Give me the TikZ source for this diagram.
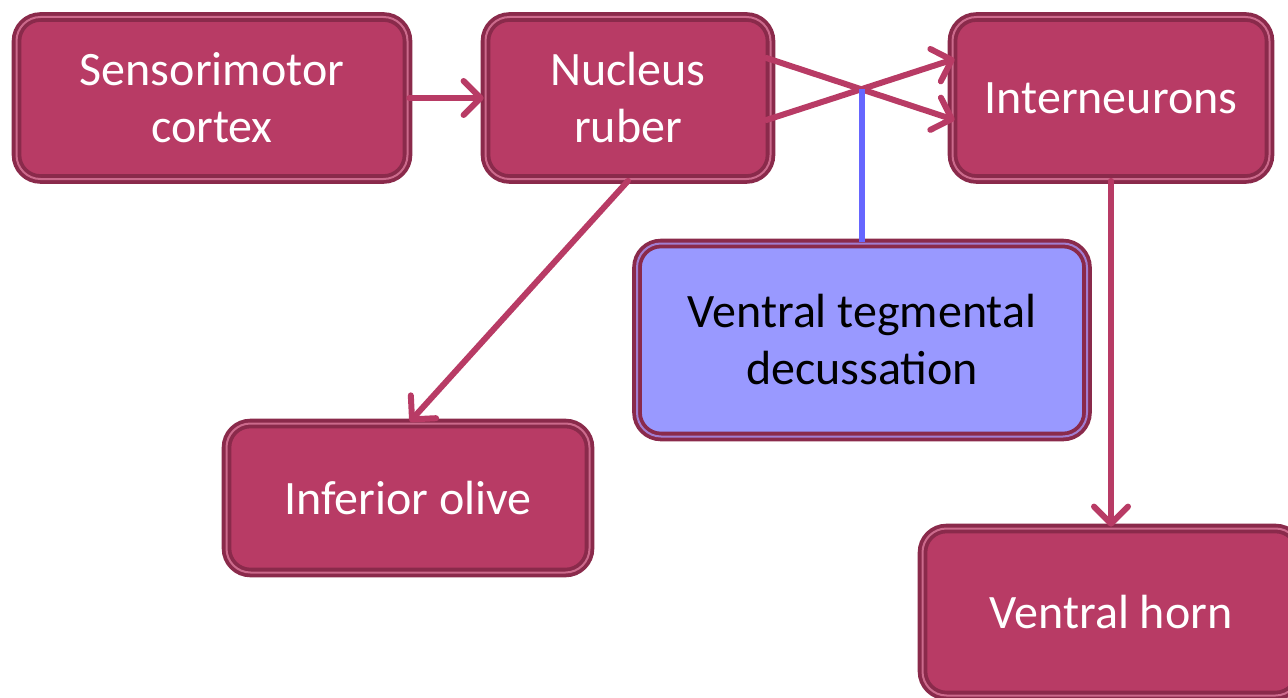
\documentclass[tikz,border=0pt]{standalone}
\usepackage{fontspec}
\setmainfont{Carlito}
\usetikzlibrary{positioning,calc,arrows.meta}

\definecolor{rubin}{HTML}{B83B65}
\definecolor{rubindark}{HTML}{8A2A4B}
\definecolor{rubinlight}{HTML}{CC6A8C}
\definecolor{lilac}{HTML}{9999FF}
\definecolor{lilacline}{HTML}{6666FF}

\begin{document}
\begin{tikzpicture}[
    x=1pt, y=-1pt,
    block/.style={rectangle, rounded corners=24pt, fill=rubin, text=white,
      draw=rubindark, line width=3.8pt, double=rubinlight, double distance=2pt,
      align=center, font=\fontsize{48}{57}\selectfont,
      minimum width=391pt, minimum height=162pt, inner sep=0pt},
    arrow/.style={-{Straight Barb[length=17pt,width=34pt,round]}, line width=6pt,
      rubin, line cap=round},
  ]
    \useasboundingbox (0,0) rectangle (1288,698);

    \node[block] (cortex) at (212,98) {Sensorimotor\\cortex};
    \node[block, minimum width=285pt] (ruber) at (628,98) {Nucleus\\ruber};
    \node[block, minimum width=317pt] (inter) at (1111,98) {Interneurons};
    \node[block, minimum width=363pt, minimum height=149pt] (olive) at (408,498) {Inferior olive};
    \node[block, minimum width=377pt, minimum height=167pt] (horn) at (1111,612) {Ventral horn};
    \node[block, fill=lilac, text=black, double=lilac!70!rubin,
      minimum width=450pt, minimum height=193pt] (vtd) at (862,340)
      {Ventral tegmental\\decussation};

    % crossing point of the two tracts
    \coordinate (cross) at (862,89);

    \draw[arrow] (cortex) -- (ruber);
    \draw[arrow] (ruber.south) -- ($(olive.north)+(2,0)$);
    \draw[arrow] ($(ruber.east)+(-6,-40)$) -- ($(inter.west)+(4,22)$);
    \draw[arrow] ($(ruber.east)+(-6,22)$) -- ($(inter.west)+(4,-39)$);
    \draw[lilacline, line width=6pt] (cross) -- (vtd.north);
    \draw[arrow] (inter.south) -- (horn.north);
  \end{tikzpicture}
\end{document}
